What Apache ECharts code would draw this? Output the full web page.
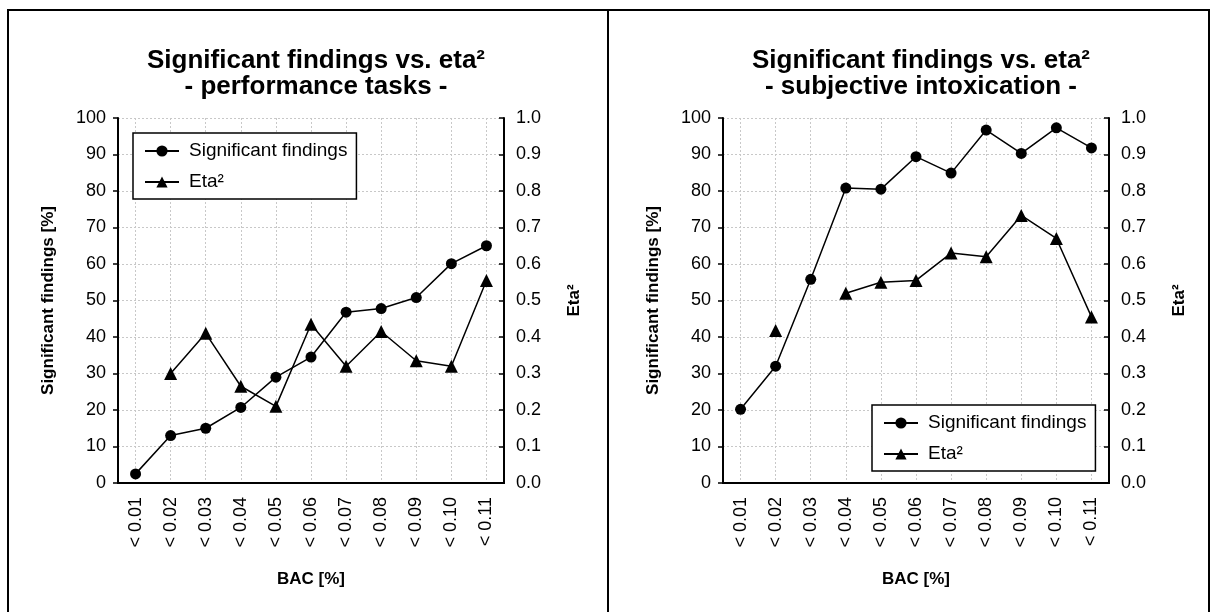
<!DOCTYPE html>
<html>
<head>
<meta charset="utf-8">
<script src="https://cdn.jsdelivr.net/npm/echarts@6/dist/echarts.min.js"></script>
<style>
  html, body { margin: 0; padding: 0; background: #fff; }
  #chart { width: 1217px; height: 612px; }
</style>
</head>
<body>
<div id="chart"></div>
<script>
// BAC classes on the x axis
const categories = ['< 0.01', '< 0.02', '< 0.03', '< 0.04', '< 0.05', '< 0.06', '< 0.07', '< 0.08', '< 0.09', '< 0.10', '< 0.11'];

// performance tasks
const perfFindings = [2.5, 13, 15, 20.7, 29, 34.5, 46.8, 47.8, 50.8, 60.1, 65];
const perfEta = [null, 0.30, 0.41, 0.265, 0.21, 0.435, 0.32, 0.415, 0.335, 0.32, 0.555];

// subjective intoxication
const subjFindings = [20.2, 32, 55.8, 80.8, 80.5, 89.4, 84.9, 96.7, 90.3, 97.3, 91.8];
const subjEta = [null, 0.418, null, 0.52, 0.55, 0.555, 0.63, 0.62, 0.733, 0.67, 0.455];

const font = 'Liberation Sans, Arial, sans-serif';
const black = '#000';
const gridColor = '#c8c8c8';

const chart = echarts.init(document.getElementById('chart'));

const panels = [
    { left: 118, sub: '- performance tasks -', findings: perfFindings, eta: perfEta, legend: { left: 133, top: 133 } },
    { left: 723, sub: '- subjective intoxication -', findings: subjFindings, eta: subjEta, legend: { left: 872, top: 405 } }
];
const plotW = 386, plotH = 365, plotTop = 118;

const grid = [], xAxis = [], yAxis = [], series = [], title = [], legend = [];

panels.forEach((p, i) => {
    grid.push({ left: p.left, top: plotTop, width: plotW, height: plotH });

    title.push({
        text: 'Significant findings vs. eta²\n' + p.sub,
        left: p.left + plotW / 2,
        top: 43,
        textAlign: 'center',
        textStyle: { fontFamily: font, fontSize: 26, fontWeight: 'bold', lineHeight: 26, color: black }
    });

    // bottom axis with labels
    xAxis.push({
        type: 'category', gridIndex: i, data: categories, position: 'bottom',
        axisLine: { lineStyle: { color: black, width: 2 } },
        axisTick: { inside: true, alignWithLabel: true, length: 6, lineStyle: { color: black, width: 1.5 } },
        axisLabel: { interval: 0, rotate: 90, margin: 14, fontSize: 18, fontFamily: font, color: black },
        splitLine: { show: true, alignWithLabel: true, lineStyle: { color: gridColor, type: [2, 2] } },
        name: 'BAC [%]', nameLocation: 'middle', nameGap: 88,
        nameTextStyle: { fontFamily: font, fontSize: 17, fontWeight: 'bold', color: black }
    });
    // top frame with ticks
    xAxis.push({
        type: 'category', gridIndex: i, data: categories, position: 'top',
        axisLine: { lineStyle: { color: black, width: 2 } },
        axisTick: { inside: true, alignWithLabel: true, length: 6, lineStyle: { color: black, width: 1.5 } },
        axisLabel: { show: false },
        splitLine: { show: false }
    });

    yAxis.push({
        type: 'value', gridIndex: i, min: 0, max: 100, interval: 10, position: 'left',
        axisLine: { show: true, lineStyle: { color: black, width: 2 } },
        axisTick: { show: true, length: 5, lineStyle: { color: black, width: 1.5 } },
        axisLabel: { margin: 12, fontSize: 18, fontFamily: font, color: black },
        splitLine: { show: true, lineStyle: { color: gridColor, type: [2, 2] } },
        name: 'Significant findings [%]', nameLocation: 'middle', nameRotate: 90, nameGap: 61,
        nameTextStyle: { fontFamily: font, fontSize: 17, fontWeight: 'bold', color: black }
    });
    yAxis.push({
        type: 'value', gridIndex: i, min: 0, max: 1, interval: 0.1, position: 'right',
        axisLine: { show: true, lineStyle: { color: black, width: 2 } },
        axisTick: { show: true, inside: true, length: 5, lineStyle: { color: black, width: 1.5 } },
        axisLabel: { margin: 12, fontSize: 18, fontFamily: font, color: black, formatter: v => v.toFixed(1) },
        splitLine: { show: false },
        name: 'Eta²', nameLocation: 'middle', nameRotate: 90, nameGap: 62,
        nameTextStyle: { fontFamily: font, fontSize: 17, fontWeight: 'bold', color: black }
    });

    series.push({
        name: 'Significant findings', type: 'line', xAxisIndex: 2 * i, yAxisIndex: 2 * i,
        data: p.findings, symbol: 'circle', symbolSize: 11, showSymbol: true,
        lineStyle: { color: black, width: 1.5 }, itemStyle: { color: black }
    });
    series.push({
        name: 'Eta²', type: 'line', xAxisIndex: 2 * i, yAxisIndex: 2 * i + 1,
        data: p.eta, symbol: 'triangle', symbolSize: 13, showSymbol: true, connectNulls: false,
        lineStyle: { color: black, width: 1.5 }, itemStyle: { color: black }
    });

    legend.push({
        orient: 'vertical', left: p.legend.left, top: p.legend.top,
        padding: [8, 9, 7, 11], itemWidth: 34, itemHeight: 14, itemGap: 11,
        borderColor: black, borderWidth: 1.5, backgroundColor: '#fff',
        textStyle: { fontFamily: font, fontSize: 19, lineHeight: 20, color: black, padding: [0, 0, 0, 5] },
        data: ['Significant findings', 'Eta²']
    });
});

const frameLine = (x1, y1, x2, y2) => ({
    type: 'line', shape: { x1, y1, x2, y2 }, style: { stroke: black, lineWidth: 2 }
});

chart.setOption({
    animation: false,
    backgroundColor: '#fff',
    title, legend, grid, xAxis, yAxis, series,
    graphic: [
        frameLine(8, 10, 1209, 10),
        frameLine(8, 9, 8, 612),
        frameLine(608, 9, 608, 612),
        frameLine(1209, 9, 1209, 612)
    ]
});
</script>
</body>
</html>
